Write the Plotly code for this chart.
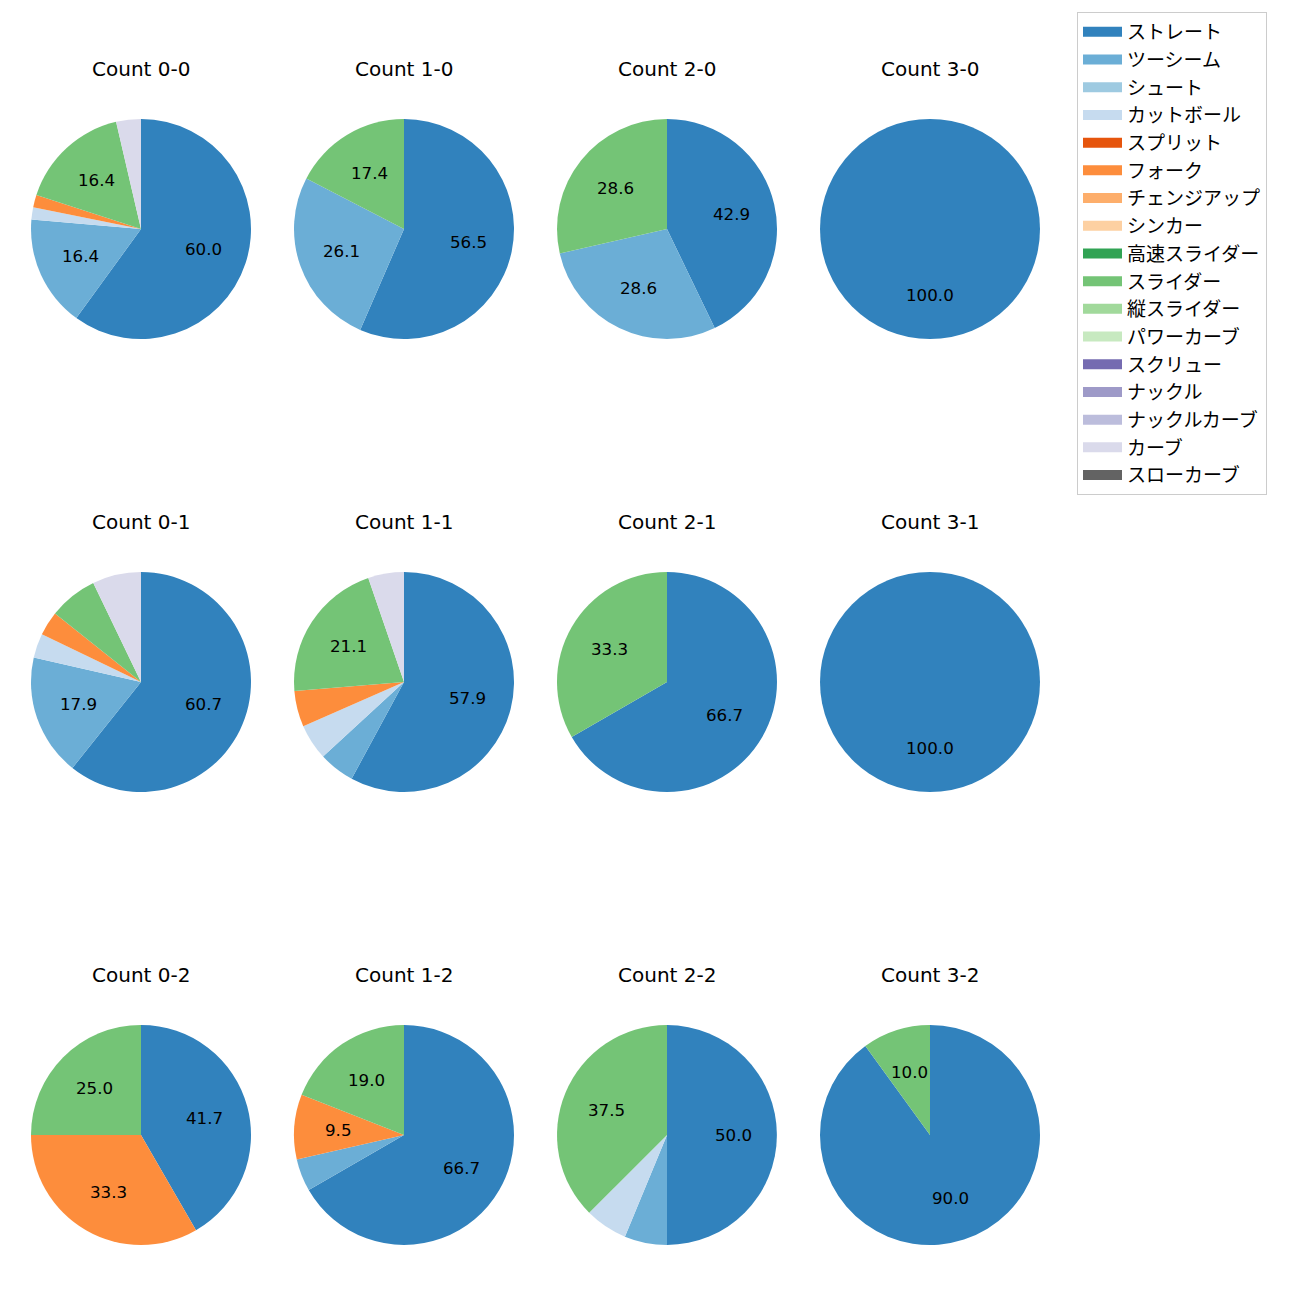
import math
import plotly.graph_objects as go

# Pitch types (legend order) and colours (tab20c)
pitch_types = ["ストレート", "ツーシーム", "シュート", "カットボール", "スプリット", "フォーク",
               "チェンジアップ", "シンカー", "高速スライダー", "スライダー", "縦スライダー",
               "パワーカーブ", "スクリュー", "ナックル", "ナックルカーブ", "カーブ", "スローカーブ"]
colors = ["#3182bd", "#6baed6", "#9ecae1", "#c6dbef", "#e6550d", "#fd8d3c", "#fdae6b",
          "#fdd0a2", "#31a354", "#74c476", "#a1d99b", "#c7e9c0", "#756bb1", "#9e9ac8",
          "#bcbddc", "#dadaeb", "#636363"]

# Pitch counts per ball-strike count, aligned with pitch_types
count_0_0 = [33, 9, 0, 1, 0, 1, 0, 0, 0, 9, 0, 0, 0, 0, 0, 2, 0]
count_1_0 = [13, 6, 0, 0, 0, 0, 0, 0, 0, 4, 0, 0, 0, 0, 0, 0, 0]
count_2_0 = [3, 2, 0, 0, 0, 0, 0, 0, 0, 2, 0, 0, 0, 0, 0, 0, 0]
count_3_0 = [5, 0, 0, 0, 0, 0, 0, 0, 0, 0, 0, 0, 0, 0, 0, 0, 0]
count_0_1 = [17, 5, 0, 1, 0, 1, 0, 0, 0, 2, 0, 0, 0, 0, 0, 2, 0]
count_1_1 = [11, 1, 0, 1, 0, 1, 0, 0, 0, 4, 0, 0, 0, 0, 0, 1, 0]
count_2_1 = [4, 0, 0, 0, 0, 0, 0, 0, 0, 2, 0, 0, 0, 0, 0, 0, 0]
count_3_1 = [3, 0, 0, 0, 0, 0, 0, 0, 0, 0, 0, 0, 0, 0, 0, 0, 0]
count_0_2 = [5, 0, 0, 0, 0, 4, 0, 0, 0, 3, 0, 0, 0, 0, 0, 0, 0]
count_1_2 = [14, 1, 0, 0, 0, 2, 0, 0, 0, 4, 0, 0, 0, 0, 0, 0, 0]
count_2_2 = [8, 1, 0, 1, 0, 0, 0, 0, 0, 6, 0, 0, 0, 0, 0, 0, 0]
count_3_2 = [9, 0, 0, 0, 0, 0, 0, 0, 0, 1, 0, 0, 0, 0, 0, 0, 0]

titles = [["Count 0-0", "Count 1-0", "Count 2-0", "Count 3-0"],
          ["Count 0-1", "Count 1-1", "Count 2-1", "Count 3-1"],
          ["Count 0-2", "Count 1-2", "Count 2-2", "Count 3-2"]]
grid = [[count_0_0, count_1_0, count_2_0, count_3_0],
        [count_0_1, count_1_1, count_2_1, count_3_1],
        [count_0_2, count_1_2, count_2_2, count_3_2]]

W = H = 1300
FONT = "DejaVu Sans, Noto Sans CJK JP"
LEGEND_FONT = "Noto Sans CJK JP"
col_cx = [141, 404, 667, 930]
row_cy = [229, 682, 1135]
R = 110
TITLE_OFFSET = 160
LABEL_MIN = 8.0

fig = go.Figure()
annotations = []

for r, row in enumerate(grid):
    for c, vals in enumerate(row):
        cx, cy = col_cx[c], row_cy[r]
        labs = [p for p, v in zip(pitch_types, vals) if v > 0]
        vs = [v for v in vals if v > 0]
        cols = [col for col, v in zip(colors, vals) if v > 0]
        fig.add_trace(go.Pie(
            labels=labs, values=vs, sort=False, direction="clockwise", rotation=0,
            marker=dict(colors=cols, line=dict(width=0)),
            textinfo="none", showlegend=False, hoverinfo="label+percent",
            domain=dict(x=[(cx - R) / W, (cx + R) / W],
                        y=[1 - (cy + R) / H, 1 - (cy - R) / H]),
        ))
        annotations.append(dict(
            text=titles[r][c], x=cx / W, y=1 - (cy - TITLE_OFFSET) / H,
            xref="paper", yref="paper", showarrow=False,
            xanchor="center", yanchor="middle",
            font=dict(family=FONT, size=20, color="black")))
        total = sum(vs)
        cum = 0.0
        for v in vs:
            frac = v / total
            pct = frac * 100
            mid = 2 * math.pi * (cum + frac / 2)
            cum += frac
            if pct < LABEL_MIN:
                continue
            x = cx + 0.6 * R * math.sin(mid)
            y = cy - 0.6 * R * math.cos(mid)
            annotations.append(dict(
                text=f"{pct:.1f}", x=x / W, y=1 - y / H,
                xref="paper", yref="paper", showarrow=False,
                xanchor="center", yanchor="middle",
                font=dict(family=FONT, size=16.7, color="black")))

# Legend entries
for i, (p, col) in enumerate(zip(pitch_types, colors)):
    fig.add_trace(go.Scatter(
        x=[None], y=[None], mode="lines", name=p,
        line=dict(color=col, width=13.5), showlegend=True,
        hoverinfo="skip"))

fig.update_layout(
    width=W, height=H,
    margin=dict(l=0, r=0, t=0, b=0),
    paper_bgcolor="white", plot_bgcolor="white",
    font=dict(family=FONT, color="black"),
    xaxis=dict(visible=False, domain=[0, 0.001]),
    yaxis=dict(visible=False, domain=[0, 0.001]),
    annotations=annotations,
    legend=dict(
        x=1077 / W, y=1 - 12 / H, xanchor="left", yanchor="top",
        bgcolor="white", bordercolor="#cccccc", borderwidth=1,
        font=dict(family=LEGEND_FONT, size=19, color="black"),
        itemwidth=39, traceorder="normal",
    ),
)

fig.write_html("out.html", config={"displayModeBar": False},
               post_script="document.body.style.margin='0px';")
